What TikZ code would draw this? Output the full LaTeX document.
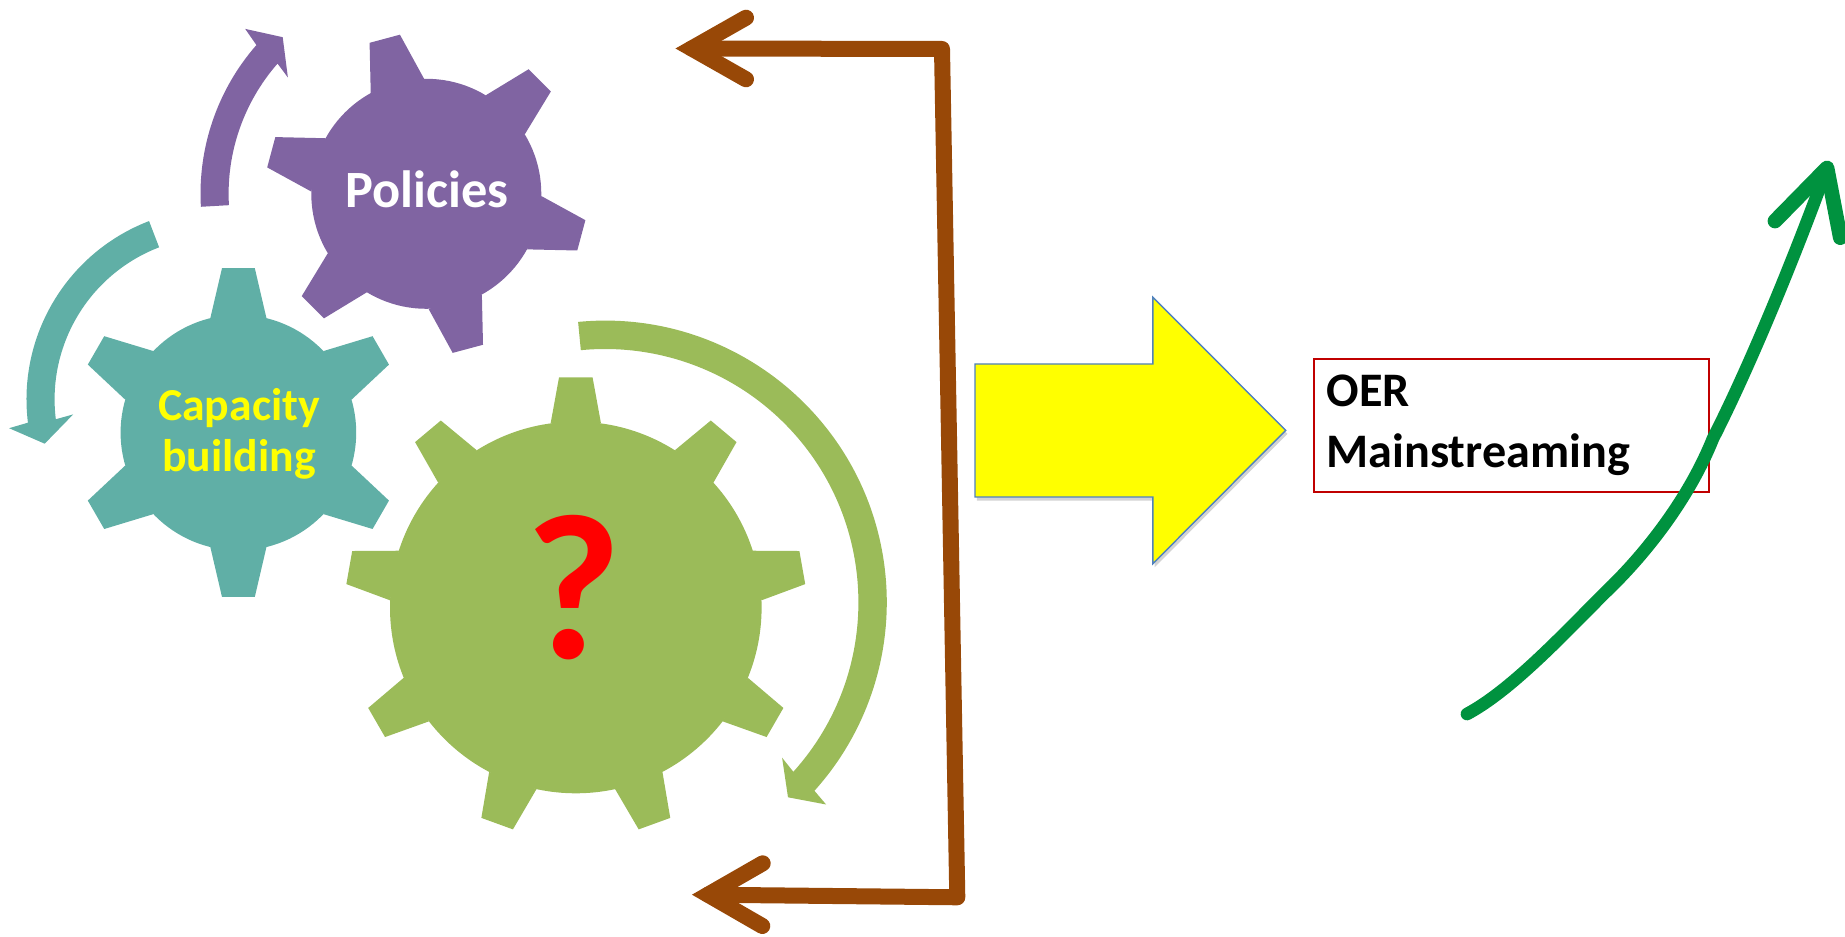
\documentclass[tikz,border=0pt]{standalone}
\usepackage{fontspec}
\setmainfont{Carlito}
\usetikzlibrary{shadows}

\definecolor{gearPurple}{HTML}{8064A2}
\definecolor{gearTeal}{HTML}{60AFA6}
\definecolor{gearGreen}{HTML}{9BBB59}
\definecolor{loopBrown}{HTML}{984807}
\definecolor{riseGreen}{HTML}{00923F}
\definecolor{boxRed}{HTML}{C00000}
\definecolor{edgeBlue}{HTML}{4F81BD}
\definecolor{pureYellow}{HTML}{FFFF00}
\definecolor{pureRed}{HTML}{FF0000}

% teeth, first angle, tip radius, tip half width, root radius, root half width, body radius
\newcommand{\gearBody}[7]{
  \fill (0,0) circle (#7);
  \foreach \k in {1,...,#1}{
    \pgfmathsetmacro{\ang}{#2+(\k-1)*360/#1}
    \fill[rotate=\ang] (#5,#6) -- (#3,#4) -- (#3,-#4) -- (#5,-#6) -- cycle;
  }
}
% colour, centre, start, end, outer radius, inner radius, wing, tip, wing
\newcommand{\turnArrow}[9]{
  \fill[#1] ([shift={#2}]#3:#5) arc[start angle=#3,end angle=#4,radius=#5] -- #7 -- #8 -- #9
    -- ([shift={#2}]#4:#6) arc[start angle=#4,end angle=#3,radius=#6] -- cycle;
}

\tikzset{
  gearText/.style={font=\bfseries,inner sep=0pt,align=center},
  loopLine/.style={draw=loopBrown,line width=4.55pt,line cap=round},
  riseLine/.style={draw=riseGreen,line cap=round,line join=round}
}

\begin{document}
\begin{tikzpicture}[x=0.01cm,y=0.01cm]
\useasboundingbox (0,0) rectangle (1845,936);

\begin{scope}[shift={(426.3,742.2)},fill=gearPurple]
  \gearBody{6}{105}{160.5}{15.7}{111.7}{27.6}{115}
\end{scope}
\begin{scope}[shift={(238.4,503.4)},fill=gearTeal]
  \gearBody{6}{90}{164.4}{16.4}{114.3}{28.1}{117.8}
\end{scope}
\begin{scope}[shift={(575.8,328.5)},fill=gearGreen]
  \gearBody{9}{90}{230}{16.8}{184}{25.2}{185.8}
\end{scope}

\turnArrow{gearPurple}{(426.3,742.2)}{183.3}{138.8}{225.8}{197.7}{(245.2,907.1)}{(282.7,898.8)}{(287.9,858.5)}
\turnArrow{gearTeal}{(217.5,536.6)}{111}{187}{191}{162.9}{(9.1,507.8)}{(44.7,492.3)}{(73.2,521.6)}
\turnArrow{gearGreen}{(605.1,333.7)}{95.5}{-42}{281.7}{253.3}{(826.1,131.5)}{(788,138.7)}{(782.1,178.3)}

\node[gearText,text=white,anchor=base,font=\bfseries\fontsize{14.9}{17}\selectfont] (policiesLabel) at (427,728) {Policies};
\node[gearText,text=pureYellow,font=\bfseries\fontsize{13}{14.6}\selectfont] (capacityLabel) at (239,502) {Capacity\\building};
\node[gearText,text=pureRed,anchor=base,font=\bfseries\fontsize{59}{70}\selectfont] (helpMark) at (574,277) {?};

\coordinate (topWingA) at (746,918.3);
\coordinate (topHead) at (691.7,887.5);
\coordinate (topWingB) at (746,856.7);
\coordinate (topCorner) at (942,887);
\coordinate (lowCorner) at (957.3,38.7);
\coordinate (lowHead) at (708,41.3);
\coordinate (lowWingA) at (762.7,72.7);
\coordinate (lowWingB) at (762.3,10);

\draw[loopLine,line join=round] (topHead) -- (topCorner) -- (lowCorner) -- (lowHead);
\draw[loopLine,line join=miter] (topWingA) -- (topHead) -- (topWingB);
\draw[loopLine,line join=miter] (lowWingA) -- (lowHead) -- (lowWingB);

\draw[draw=edgeBlue,line width=0.4pt,fill=pureYellow,drop shadow={shadow xshift=0.5pt,shadow yshift=-1pt,opacity=0.35}]
  (975,572) -- (1152.9,572) -- (1152.9,638.7) -- (1285.7,505.7) -- (1152.9,372.3) -- (1152.9,439) -- (975,439) -- cycle;

\node[draw=boxRed,line width=0.57pt,minimum width=3.946cm,minimum height=1.333cm,inner xsep=0.117cm,inner ysep=0pt,text width=3.7cm,align=left,font=\bfseries\fontsize{13.7}{17.4}\selectfont] (oerBox) at (1511.6,510.7) {OER\\Mainstreaming};

\coordinate (riseStart) at (1467,222);
\coordinate (riseBend) at (1604.2,342.5);
\coordinate (riseKnee) at (1713,497.5);
\coordinate (riseTip) at (1827,768);
\coordinate (riseWingA) at (1775,715);
\coordinate (riseWingB) at (1840.3,698.4);

\draw[riseLine,line width=3.6pt] (riseStart) .. controls (1510,245) and (1560,298) .. (riseBend)
  .. controls (1648,384) and (1690,440) .. (riseKnee)
  .. controls (1750,570) and (1795,680) .. (riseTip);
\draw[riseLine,line width=4.2pt] (riseWingA) -- (riseTip) -- (riseWingB);
\end{tikzpicture}
\end{document}
